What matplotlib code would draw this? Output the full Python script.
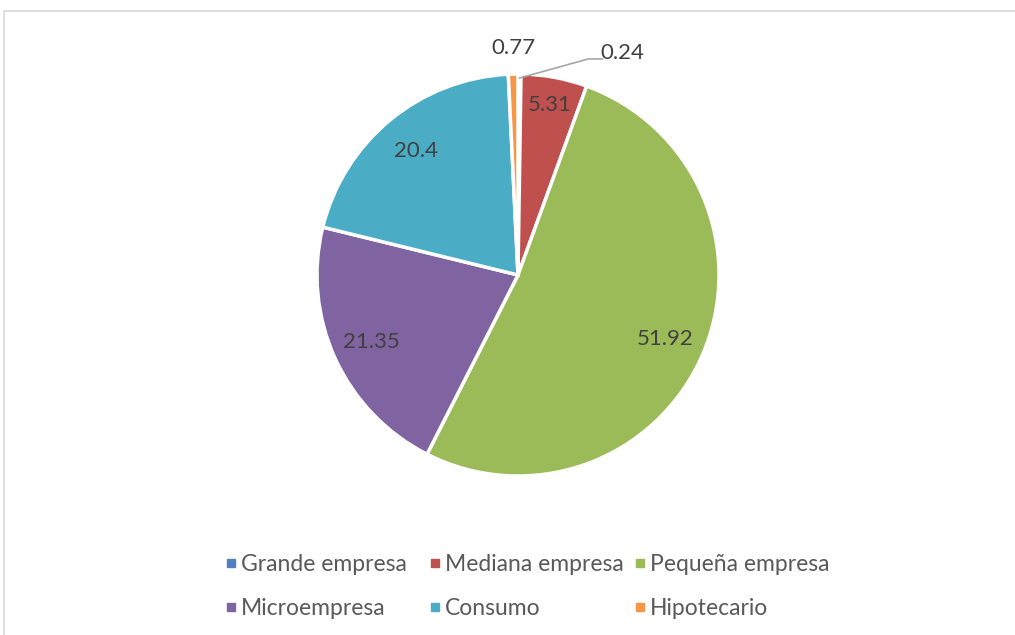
import numpy as np
import matplotlib
matplotlib.use("Agg")
import matplotlib.pyplot as plt
from matplotlib.lines import Line2D
from matplotlib.patches import Rectangle

categories = ["Grande empresa", "Mediana empresa", "Pequeña empresa",
              "Microempresa", "Consumo", "Hipotecario"]
values = [0.24, 5.31, 51.92, 21.35, 20.4, 0.77]
labels = ["0.24", "5.31", "51.92", "21.35", "20.4", "0.77"]
colors = ["#4F81BD", "#C0504D", "#9BBB59", "#8064A2", "#4BACC6", "#F79646"]

plt.rcParams['font.family'] = ['Lato', 'DejaVu Sans']
W, H = 1015, 635
fig = plt.figure(figsize=(W / 100, H / 100), dpi=100)
fig.patch.set_facecolor("white")

# outer chart border
fig.patches.append(Rectangle((4 / W, -0.1), 1.2, (H - 11) / H + 0.1,
                             transform=fig.transFigure, fill=False,
                             edgecolor="#D9D9D9", linewidth=1.2))

cx, cy, r = 518, 275, 201
ax = fig.add_axes([(cx - r) / W, (H - cy - r) / H, 2 * r / W, 2 * r / H])

wedges, _ = ax.pie(values, colors=colors, startangle=90, counterclock=False,
                   radius=1.0, wedgeprops=dict(edgecolor="white", linewidth=2.5))
ax.set_aspect("auto")
ax.set_xlim(-1, 1)
ax.set_ylim(-1, 1)
ax.axis("off")

txtcolor = "#404040"
fs = 16
for i, (w, lab) in enumerate(zip(wedges, labels)):
    ang = np.deg2rad((w.theta1 + w.theta2) / 2)
    if i == 0:
        # small slice with leader line
        x0, y0 = 0.98 * np.cos(ang), 0.98 * np.sin(ang)
        ax.plot([x0, 0.35, 0.42], [y0, 1.075, 1.075], color="#A6A6A6", lw=1.2,
                clip_on=False)
        ax.text(0.52, 1.105, lab, ha="center", va="center", fontsize=fs,
                color=txtcolor)
    elif i == 5:
        ax.text(-0.025, 1.13, lab, ha="center", va="center", fontsize=fs,
                color=txtcolor)
    else:
        d = 0.8 if i != 1 else 0.86
        ax.text(d * np.cos(ang), d * np.sin(ang), lab, ha="center",
                va="center", fontsize=fs, color=txtcolor)

handles = [Line2D([], [], marker="s", linestyle="none", markersize=6,
                  markerfacecolor=c, markeredgecolor=c) for c in colors]
cols = [(0, 3), (1, 4), (2, 5)]
xs = [225, 429, 634]
for (a, b), x in zip(cols, xs):
    leg = fig.legend([handles[a], handles[b]], [categories[a], categories[b]],
                     loc="upper left", bbox_to_anchor=(x / W, 1 - 554 / H),
                     frameon=False, fontsize=16.5, labelcolor="#595959",
                     handlelength=0.5, handletextpad=0.2, labelspacing=1.0,
                     borderpad=0, borderaxespad=0)

fig.savefig("out.png", dpi=100, facecolor="white")
